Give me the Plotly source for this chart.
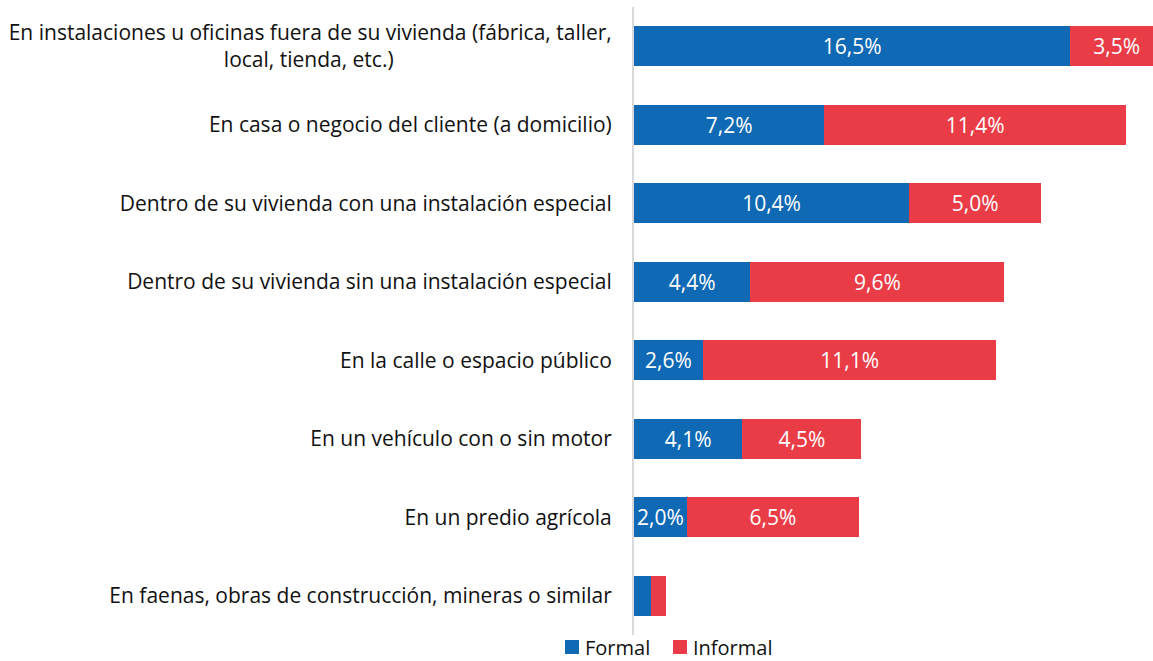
import plotly.graph_objects as go

NB = "\u00a0"
categories = [
    "En instalaciones u oficinas fuera de su vivienda (fábrica, taller,<br>local, tienda, etc.)" + NB * 40,
    "En casa o negocio del cliente (a domicilio)",
    "Dentro de su vivienda con una instalación especial",
    "Dentro de su vivienda sin una instalación especial",
    "En la calle o espacio público",
    "En un vehículo con o sin motor",
    "En un predio agrícola",
    "En faenas, obras de construcción, mineras o similar",
]
series_names = ["Formal", "Informal"]
formal = [16.5, 7.2, 10.4, 4.4, 2.6, 4.1, 2.0, 0.65]
informal = [3.5, 11.4, 5.0, 9.6, 11.1, 4.5, 6.5, 0.55]
formal_text = ["16,5%", "7,2%", "10,4%", "4,4%", "2,6%", "4,1%", "2,0%", ""]
informal_text = ["3,5%", "11,4%", "5,0%", "9,6%", "11,1%", "4,5%", "6,5%", ""]

BLUE = "#0f69b4"
RED = "#e93c47"
FONT = "'Open Sans', sans-serif"
TXT = "#111111"

fig = go.Figure()
for name, vals, txt, col in [(series_names[0], formal, formal_text, BLUE),
                             (series_names[1], informal, informal_text, RED)]:
    fig.add_trace(go.Bar(
        y=categories, x=vals, name=name, orientation="h",
        marker=dict(color=col, line=dict(width=0)),
        text=txt, textposition="inside", insidetextanchor="middle",
        textfont=dict(color="white", size=21, family=FONT), textangle=0,
        constraintext="none", showlegend=False,
    ))

# plot area: x 634..1153 (519px), y 7..635 (628px)
def px(x):
    return (x - 634) / 519.0

def py(y):
    return (635 - y) / 628.0

legend_items = [(series_names[0], BLUE, 565), (series_names[1], RED, 673)]
for name, col, x0 in legend_items:
    fig.add_shape(type="rect", xref="paper", yref="paper",
                  x0=px(x0), x1=px(x0 + 14), y0=py(654), y1=py(640),
                  fillcolor=col, line=dict(width=0), layer="above")
    fig.add_annotation(xref="paper", yref="paper", x=px(x0 + 19), y=py(647),
                       xanchor="left", yanchor="middle", showarrow=False,
                       text=name, font=dict(size=20, family=FONT, color=TXT),
                       borderpad=0)

fig.update_layout(
    barmode="stack",
    bargap=0.49,
    width=1153, height=661,
    margin=dict(l=634, r=0, t=7, b=26, pad=0),
    plot_bgcolor="white", paper_bgcolor="white",
    font=dict(family=FONT, size=21, color=TXT),
    showlegend=False,
    xaxis=dict(range=[0, 19.62], showgrid=False, showticklabels=False,
               zeroline=False, showline=False, fixedrange=True, automargin=False),
    yaxis=dict(autorange="reversed", showgrid=False, showline=True,
               linecolor="#d9d9d9", linewidth=2, ticks="", automargin=False,
               ticklabelstandoff=16, tickfont=dict(size=21, family=FONT, color=TXT)),
)

fig.write_html(
    "out.html",
    config={"displayModeBar": False},
    post_script="document.body.style.margin='0';document.body.style.overflow='hidden';",
)
